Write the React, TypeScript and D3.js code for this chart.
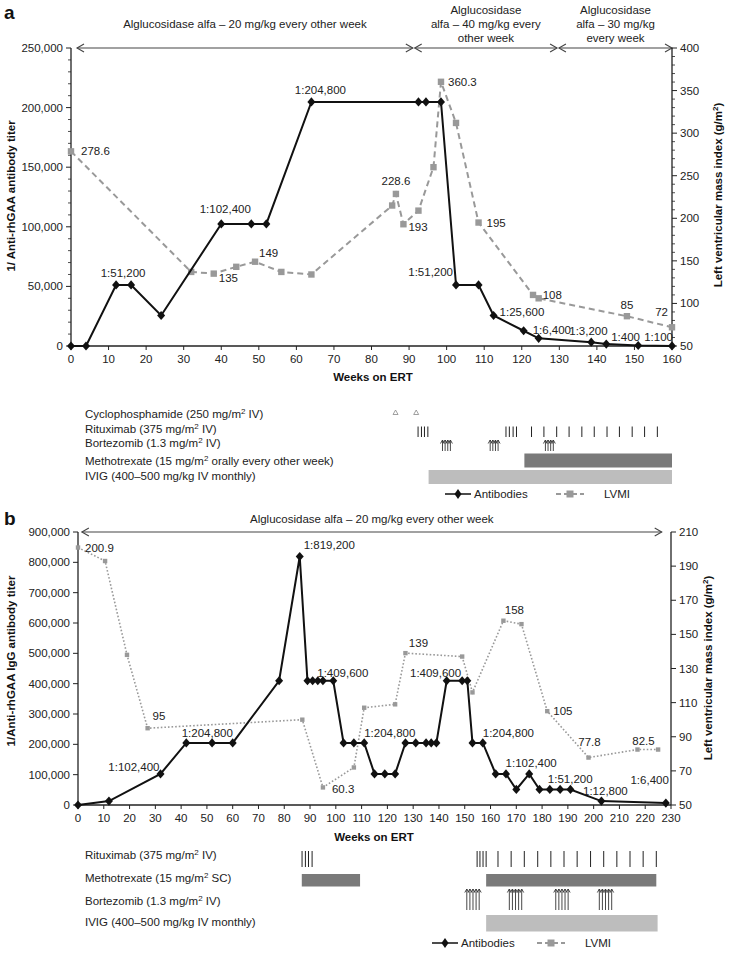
import React from "react";
import * as d3 from "d3";

const FONT = "'Liberation Sans', Arial, Helvetica, sans-serif";

// ---------------- Panel a data ----------------
const abWeeksA = [0, 4, 12, 16, 24, 40, 48, 52, 64, 92.5, 94.5, 98.5, 102.5, 108.5, 112.5, 120.5, 124.5, 138.5, 142.5, 151, 160];
const abTiterA = [0, 0, 51200, 51200, 25600, 102400, 102400, 102400, 204800, 204800, 204800, 204800, 51200, 51200, 25600, 12800, 6400, 3200, 1600, 400, 100];
const lvWeeksA = [0, 32, 38, 44, 49, 56, 64, 85.5, 86.5, 88.5, 92.5, 96.5, 98.5, 102.5, 108.5, 123, 124.5, 148, 160];
const lvValA = [278.6, 137, 135, 143, 149, 137, 134, 215, 228.6, 193, 209, 260, 360.3, 312, 195, 110, 106, 85, 72];

const abLabelsA = [
  { i: 2, text: "1:51,200" }, { i: 5, text: "1:102,400" }, { i: 8, text: "1:204,800" },
  { i: 12, text: "1:51,200" }, { i: 14, text: "1:25,600" }, { i: 16, text: "1:6,400" },
  { i: 17, text: "1:3,200" }, { i: 19, text: "1:400" }, { i: 20, text: "1:100" },
];
const lvLabelsA = [
  { i: 0, text: "278.6" }, { i: 2, text: "135" }, { i: 4, text: "149" }, { i: 8, text: "228.6" },
  { i: 9, text: "193" }, { i: 12, text: "360.3" }, { i: 14, text: "195" }, { i: 16, text: "108" },
  { i: 17, text: "85" }, { i: 18, text: "72" },
];

const leftTicksA = [0, 50000, 100000, 150000, 200000, 250000];
const rightTicksA = [50, 100, 150, 200, 250, 300, 350, 400];
const weekTicksA = [0, 10, 20, 30, 40, 50, 60, 70, 80, 90, 100, 110, 120, 130, 140, 150, 160];

const dosingA = [
  { from: 1.6, to: 91, lines: ["Alglucosidase alfa \u2013 20 mg/kg every other week"] },
  { from: 91.5, to: 129.4, lines: ["Alglucosidase", "alfa \u2013 40 mg/kg every", "other week"] },
  { from: 129.9, to: 160, lines: ["Alglucosidase", "alfa \u2013 30 mg/kg", "every week"] },
];

const cycloA = [86.4, 91.9];
const rituxA = [92.4, 93.3, 94.1, 95.0, 115.8, 116.7, 117.7, 118.6, 122.6, 125.9, 129.3, 132.6, 136.0, 139.3, 142.7, 146.0, 149.4, 152.7, 156.1];
const bortezA = [[98.9, 99.6, 100.3, 101.0], [111.6, 112.3, 113.0, 113.7], [126.3, 127.0, 127.7, 128.4]];
const mtxA = [[120.7, 160]];
const ivigA = [[95.2, 160]];

// ---------------- Panel b data ----------------
const abWeeksB = [0, 12, 32, 42, 52, 60, 78, 86, 89, 91, 93, 95, 99, 103, 107, 111, 115, 119, 123, 127, 131, 135, 137, 139, 143, 149, 151, 153, 157, 162, 166, 170, 175, 179, 183, 187, 191, 203, 228];
const abTiterB = [0, 12800, 102400, 204800, 204800, 204800, 409600, 819200, 409600, 409600, 409600, 409600, 409600, 204800, 204800, 204800, 102400, 102400, 102400, 204800, 204800, 204800, 204800, 204800, 409600, 409600, 409600, 204800, 204800, 102400, 102400, 51200, 102400, 51200, 51200, 51200, 51200, 12800, 6400];
const lvWeeksB = [0, 10.5, 19, 27, 87, 95, 107, 111, 123, 127, 149, 153, 165, 172, 182, 198, 217, 225];
const lvValB = [200.9, 193, 138, 95, 100, 60.3, 72, 107, 109, 139, 137, 116, 158, 156, 105, 77.8, 82.5, 82.5];

const abLabelsB = [
  { i: 2, text: "1:102,400" }, { i: 3, text: "1:204,800" }, { i: 7, text: "1:819,200" },
  { i: 12, text: "1:409,600" }, { i: 15, text: "1:204,800" }, { i: 25, text: "1:409,600" },
  { i: 28, text: "1:204,800" }, { i: 32, text: "1:102,400" }, { i: 34, text: "1:51,200" },
  { i: 37, text: "1:12,800" }, { i: 38, text: "1:6,400" },
];
const lvLabelsB = [
  { i: 0, text: "200.9" }, { i: 3, text: "95" }, { i: 5, text: "60.3" }, { i: 9, text: "139" },
  { i: 12, text: "158" }, { i: 14, text: "105" }, { i: 15, text: "77.8" }, { i: 16, text: "82.5" },
];

const leftTicksB = [0, 100000, 200000, 300000, 400000, 500000, 600000, 700000, 800000, 900000];
const rightTicksB = [50, 70, 90, 110, 130, 150, 170, 190, 210];
const weekTicksB = [0, 10, 20, 30, 40, 50, 60, 70, 80, 90, 100, 110, 120, 130, 140, 150, 160, 170, 180, 190, 200, 210, 220, 230];

const dosingB = [{ from: 1.5, to: 226.4, lines: ["Alglucosidase alfa \u2013 20 mg/kg every other week"] }];

const rituxB = [86.9, 88.2, 89.4, 90.8, 154.8, 155.9, 157.1, 158.3, 162.9, 168.0, 173.1, 178.3, 183.4, 188.5, 193.6, 198.8, 203.9, 209.0, 214.1, 219.2, 224.3];
const mtxB = [[86.8, 109.4], [158.3, 224.3]];
const bortezB = [[150.8, 152.0, 153.2, 154.4, 155.6], [167.3, 168.5, 169.7, 170.9, 172.1], [185.3, 186.5, 187.7, 188.9, 190.1], [202.2, 203.4, 204.6, 205.8, 207.0]];
const ivigB = [[158.3, 224.8]];

// ---------------- layout (not data) ----------------
const abOffA: [string, number, number][] = [
  ["middle", 7, -8], ["middle", 4, -11], ["middle", 9, -8], ["end", -3, -9], ["start", 6, 1],
  ["start", -6, -4], ["start", -22, -7], ["start", -27, -5], ["end", 1, -5],
];
const lvOffA: [string, number, number][] = [
  ["start", 10, 4], ["start", 5, 8], ["start", 4, -5], ["middle", 0, -9], ["start", 5, 7],
  ["start", 7, 4], ["start", 8, 4], ["start", 4, 1], ["middle", 0, -7], ["end", -4, -11],
];
const abOffB: [string, number, number][] = [
  ["end", -1, -3], ["middle", 21, -6], ["start", 4, -8], ["start", -16, -4], ["start", 0, -6],
  ["end", -1, -4], ["start", 0, -6], ["middle", 2, -7], ["start", -2, -6], ["middle", 4, -6], ["end", 3, -19],
];
const lvOffB: [string, number, number][] = [
  ["start", 7, 4], ["start", 5, -8], ["start", 9, 6], ["middle", 13, -6], ["middle", 11, -7],
  ["start", 6, 4], ["middle", 1, -12], ["middle", 6, -5],
];

const fmt = d3.format(",");
const TICK_FS = 11.5;

function diamondPath(x: number, y: number, w = 4, h = 4.6) {
  return `M${x},${y - h}L${x + w},${y}L${x},${y + h}L${x - w},${y}Z`;
}

function Chevron({ x, y, dir }: { x: number; y: number; dir: number }) {
  return <path d={`M${x - dir * 7},${y - 4}L${x},${y}L${x - dir * 7},${y + 4}`} fill="none" stroke="#444" strokeWidth={1.1} />;
}

function DosingArrows({ xs, y, segs, textY }: any) {
  return (
    <g>
      {segs.map((s: any, k: number) => {
        const a = xs(s.from), b = xs(s.to);
        const cx = (a + b) / 2;
        const n = s.lines.length;
        return (
          <g key={k}>
            <line x1={a} x2={b} y1={y} y2={y} stroke="#444" strokeWidth={1.1} />
            <Chevron x={a} y={y} dir={-1} />
            <Chevron x={b} y={y} dir={1} />
            {s.lines.map((t: string, j: number) => (
              <text key={j} x={cx} y={textY[n - 1] + j * 14} textAnchor="middle" fontSize={11.5} fontFamily={FONT} fill="#222">{t}</text>
            ))}
          </g>
        );
      })}
    </g>
  );
}

function Axes({ x, yl, yr, x0, x1, yTop, yBot, leftTicks, rightTicks, weekTicks, leftMinor, rightMinor }: any) {
  return (
    <g fontFamily={FONT} fontSize={TICK_FS} fill="#222">
      <line x1={x0} x2={x0} y1={yTop} y2={yBot} stroke="#222" strokeWidth={1.3} />
      <line x1={x1} x2={x1} y1={yTop} y2={yBot} stroke="#222" strokeWidth={1.3} />
      <line x1={x0} x2={x1} y1={yBot} y2={yBot} stroke="#222" strokeWidth={1.6} />
      {leftMinor.map((v: number) => <line key={"lm" + v} x1={x0 - 3} x2={x0} y1={yl(v)} y2={yl(v)} stroke="#222" strokeWidth={0.8} />)}
      {rightMinor.map((v: number) => <line key={"rm" + v} x1={x1} x2={x1 + 3} y1={yr(v)} y2={yr(v)} stroke="#222" strokeWidth={0.8} />)}
      {leftTicks.map((v: number) => (
        <g key={"l" + v}>
          <line x1={x0 - 5} x2={x0} y1={yl(v)} y2={yl(v)} stroke="#222" strokeWidth={1} />
          <text x={x0 - 8} y={yl(v) + 4} textAnchor="end">{fmt(v)}</text>
        </g>
      ))}
      {rightTicks.map((v: number) => (
        <g key={"r" + v}>
          <line x1={x1} x2={x1 + 5} y1={yr(v)} y2={yr(v)} stroke="#222" strokeWidth={1} />
          <text x={x1 + 8} y={yr(v) + 4} textAnchor="start">{v}</text>
        </g>
      ))}
      {weekTicks.map((v: number) => (
        <g key={"w" + v}>
          <line x1={x(v)} x2={x(v)} y1={yBot} y2={yBot + 4} stroke="#222" strokeWidth={1} />
          <text x={x(v)} y={yBot + 17} textAnchor="middle">{v}</text>
        </g>
      ))}
    </g>
  );
}

function Series({ x, yl, yr, abW, abV, lvW, lvV, dotted }: any) {
  const abPts = abW.map((w: number, i: number) => [x(w), yl(abV[i])]);
  const lvPts = lvW.map((w: number, i: number) => [x(w), yr(lvV[i])]);
  const line = d3.line();
  const sq = dotted ? 2.2 : 3.2;
  return (
    <g>
      <path d={line(lvPts) || ""} fill="none" stroke="#999" strokeWidth={dotted ? 1.6 : 2} strokeDasharray={dotted ? "1.6,2" : "6,4"} />
      {lvPts.map((p: number[], i: number) => <rect key={i} x={p[0] - sq} y={p[1] - sq} width={sq * 2} height={sq * 2} fill="#999" />)}
      <path d={line(abPts) || ""} fill="none" stroke="#111" strokeWidth={2} />
      {abPts.map((p: number[], i: number) => <path key={i} d={diamondPath(p[0], p[1])} fill="#111" />)}
    </g>
  );
}

function Labels({ x, y, weeks, vals, labels, offs }: any) {
  return (
    <g fontFamily={FONT} fontSize={11.5} fill="#222">
      {labels.map((l: any, k: number) => {
        const [anchor, dx, dy] = offs[k];
        return <text key={k} x={x(weeks[l.i]) + dx} y={y(vals[l.i]) + dy} textAnchor={anchor}>{l.text}</text>;
      })}
    </g>
  );
}

function Arrow({ x, y0, y1 }: { x: number; y0: number; y1: number }) {
  return (
    <g stroke="#333" strokeWidth={0.9} fill="none">
      <line x1={x} x2={x} y1={y1} y2={y0} />
      <path d={`M${x - 2},${y0 + 3.5}L${x},${y0}L${x + 2},${y0 + 3.5}`} />
    </g>
  );
}

function Legend({ y, xLine, xLv }: { y: number; xLine: number; xLv: number }) {
  return (
    <g fontFamily={FONT} fontSize={11.5} fill="#222">
      <line x1={xLine} x2={xLine + 26} y1={y} y2={y} stroke="#111" strokeWidth={1.5} />
      <path d={diamondPath(xLine + 13, y, 3.5, 5)} fill="#111" />
      <text x={xLine + 29} y={y + 4}>Antibodies</text>
      <line x1={xLv} x2={xLv + 28} y1={y} y2={y} stroke="#999" strokeWidth={2} strokeDasharray="5,3" />
      <rect x={xLv + 10.5} y={y - 3.5} width={7} height={7} fill="#999" />
      <text x={xLv + 48} y={y + 4}>LVMI</text>
    </g>
  );
}

function Sup({ pre, post }: { pre: string; post: string }) {
  return (
    <>
      {pre}
      <tspan dy={-4} fontSize={8}>2</tspan>
      <tspan dy={4}>{post}</tspan>
    </>
  );
}

export default function App() {
  // panel a scales
  const xA = d3.scaleLinear().domain([0, 160]).range([71, 672]);
  const ylA = d3.scaleLinear().domain([0, 250000]).range([346, 48]);
  const yrA = d3.scaleLinear().domain([50, 400]).range([346, 48]);
  // panel b scales
  const xB = d3.scaleLinear().domain([0, 230]).range([78, 671]);
  const ylB = d3.scaleLinear().domain([0, 900000]).range([805, 532]);
  const yrB = d3.scaleLinear().domain([50, 210]).range([805, 532]);

  const leftMinorA = d3.range(0, 250001, 10000).filter((v) => v % 50000 !== 0);
  const rightMinorA = d3.range(50, 401, 10).filter((v) => v % 50 !== 0);

  const lblX = 85;
  const txt = { fontFamily: FONT, fontSize: 11.5, fill: "#222" } as any;

  return (
    <svg width={729} height={955} style={{ position: "absolute", left: 0, top: 0, background: "#fff" }}>
      <rect x={0} y={0} width={729} height={955} fill="#fff" />
      {/* ============ Panel a ============ */}
      <text x={4} y={19} fontFamily={FONT} fontSize={19} fontWeight="bold" fill="#111">a</text>
      <DosingArrows xs={xA} y={48} segs={dosingA} textY={[28, 0, 14]} />
      <Axes x={xA} yl={ylA} yr={yrA} x0={71} x1={672} yTop={48} yBot={346}
        leftTicks={leftTicksA} rightTicks={rightTicksA} weekTicks={weekTicksA}
        leftMinor={leftMinorA} rightMinor={rightMinorA} />
      <Series x={xA} yl={ylA} yr={yrA} abW={abWeeksA} abV={abTiterA} lvW={lvWeeksA} lvV={lvValA} dotted={false} />
      <Labels x={xA} y={ylA} weeks={abWeeksA} vals={abTiterA} labels={abLabelsA} offs={abOffA} />
      <Labels x={xA} y={yrA} weeks={lvWeeksA} vals={lvValA} labels={lvLabelsA} offs={lvOffA} />
      <text x={373} y={381} textAnchor="middle" fontFamily={FONT} fontSize={11.5} fontWeight="bold" fill="#111">Weeks on ERT</text>
      <text transform="translate(15,196) rotate(-90)" textAnchor="middle" fontFamily={FONT} fontSize={11.5} fontWeight="bold" fill="#111">1/ Anti-rhGAA antibody titer</text>
      <text transform="translate(722,195) rotate(-90)" textAnchor="middle" fontFamily={FONT} fontSize={11.5} fontWeight="bold" fill="#111">
        <Sup pre="Left ventricular mass index (g/m" post=")" />
      </text>

      {/* treatments a */}
      <text x={lblX} y={418} {...txt}><Sup pre="Cyclophosphamide (250 mg/m" post=" IV)" /></text>
      <text x={lblX} y={433} {...txt}><Sup pre="Rituximab (375 mg/m" post=" IV)" /></text>
      <text x={lblX} y={447} {...txt}><Sup pre="Bortezomib (1.3 mg/m" post=" IV)" /></text>
      <text x={lblX} y={465} {...txt}><Sup pre="Methotrexate (15 mg/m" post=" orally every other week)" /></text>
      <text x={lblX} y={480} {...txt}>IVIG (400–500 mg/kg IV monthly)</text>
      {cycloA.map((w, i) => (
        <path key={i} d={`M${xA(w)},${410}L${xA(w) + 2.5},${414.5}L${xA(w) - 2.5},${414.5}Z`} fill="none" stroke="#888" strokeWidth={0.8} />
      ))}
      {rituxA.map((w, i) => <line key={i} x1={xA(w)} x2={xA(w)} y1={426.5} y2={437} stroke="#222" strokeWidth={1} />)}
      {bortezA.map((g, k) => g.map((w, i) => <Arrow key={k + "-" + i} x={xA(w)} y0={440} y1={451} />))}
      {mtxA.map((r, i) => <rect key={i} x={xA(r[0])} y={453.5} width={xA(r[1]) - xA(r[0])} height={14} fill="#7a7a7a" />)}
      {ivigA.map((r, i) => <rect key={i} x={xA(r[0])} y={470} width={xA(r[1]) - xA(r[0])} height={14} fill="#bdbdbd" />)}
      <Legend y={494} xLine={445} xLv={556} />

      {/* ============ Panel b ============ */}
      <text x={4} y={525} fontFamily={FONT} fontSize={19} fontWeight="bold" fill="#111">b</text>
      <DosingArrows xs={xB} y={532} segs={dosingB} textY={[523]} />
      <Axes x={xB} yl={ylB} yr={yrB} x0={78} x1={671} yTop={532} yBot={805}
        leftTicks={leftTicksB} rightTicks={rightTicksB} weekTicks={weekTicksB}
        leftMinor={[]} rightMinor={[]} />
      <Series x={xB} yl={ylB} yr={yrB} abW={abWeeksB} abV={abTiterB} lvW={lvWeeksB} lvV={lvValB} dotted={true} />
      <Labels x={xB} y={ylB} weeks={abWeeksB} vals={abTiterB} labels={abLabelsB} offs={abOffB} />
      <Labels x={xB} y={yrB} weeks={lvWeeksB} vals={lvValB} labels={lvLabelsB} offs={lvOffB} />
      <text x={374} y={841} textAnchor="middle" fontFamily={FONT} fontSize={11.5} fontWeight="bold" fill="#111">Weeks on ERT</text>
      <text transform="translate(15,661) rotate(-90)" textAnchor="middle" fontFamily={FONT} fontSize={11.5} fontWeight="bold" fill="#111">1/Anti-rhGAA IgG antibody titer</text>
      <text transform="translate(712,668) rotate(-90)" textAnchor="middle" fontFamily={FONT} fontSize={11.5} fontWeight="bold" fill="#111">
        <Sup pre="Left ventricular mass index (g/m" post=")" />
      </text>

      {/* treatments b */}
      <text x={lblX} y={859} {...txt}><Sup pre="Rituximab (375 mg/m" post=" IV)" /></text>
      <text x={lblX} y={882} {...txt}><Sup pre="Methotrexate (15 mg/m" post=" SC)" /></text>
      <text x={lblX} y={905} {...txt}><Sup pre="Bortezomib (1.3 mg/m" post=" IV)" /></text>
      <text x={lblX} y={926} {...txt}>IVIG (400–500 mg/kg IV monthly)</text>
      {rituxB.map((w, i) => <line key={i} x1={xB(w)} x2={xB(w)} y1={851} y2={867} stroke="#222" strokeWidth={1} />)}
      {mtxB.map((r, i) => <rect key={i} x={xB(r[0])} y={874} width={xB(r[1]) - xB(r[0])} height={12.5} fill="#7a7a7a" />)}
      {bortezB.map((g, k) => g.map((w, i) => <Arrow key={k + "-" + i} x={xB(w)} y0={889} y1={910} />))}
      {ivigB.map((r, i) => <rect key={i} x={xB(r[0])} y={915} width={xB(r[1]) - xB(r[0])} height={16.5} fill="#bdbdbd" />)}
      <Legend y={943} xLine={432} xLv={537} />
    </svg>
  );
}
